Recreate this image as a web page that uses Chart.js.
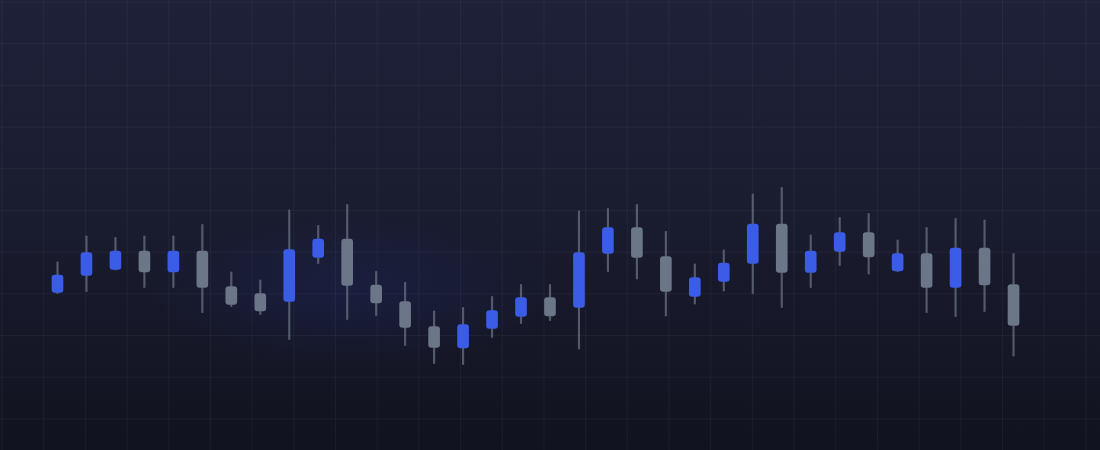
<!DOCTYPE html>
<html>
<head>
<meta charset="utf-8">
<script src="https://cdn.jsdelivr.net/npm/chart.js@4/dist/chart.umd.min.js"></script>
<style>
    html, body { margin: 0; padding: 0; }
    body { width: 1100px; height: 450px; overflow: hidden; background: #161828; }
    .wrap {
        position: relative;
        width: 1100px;
        height: 450px;
        background:
            linear-gradient(to right, rgba(255,255,255,0.038) 1px, transparent 1px) 1.5px 1.5px / 41.7px 41.7px,
            linear-gradient(to bottom, rgba(255,255,255,0.038) 1px, transparent 1px) 1.5px 1.5px / 41.7px 41.7px,
            radial-gradient(ellipse 300px 110px at 350px 290px, rgba(45,70,210,0.12), transparent 70%),
            linear-gradient(to bottom, #1f2139 0%, #1a1c30 45%, #121320 100%);
    }
</style>
</head>
<body>
<div class="wrap"><canvas id="chartCanvas"></canvas></div>
<script>
// Candles, left to right
const labels = Array.from({ length: 34 }, (_, i) => 'D' + (i + 1));
const opens  = [91.5, 94.9, 96.1, 99.8, 95.6, 99.8, 92.7, 91.3, 89.7, 98.5, 102.2, 93.0, 89.7, 84.7, 80.4, 84.3, 86.7,
                90.5, 88.5, 99.3, 104.5, 98.7, 90.7, 93.7, 97.3, 105.2, 95.5, 99.7, 103.5, 95.8, 99.3, 92.5, 100.4, 93.1];
const closes = [95.0, 99.5, 99.8, 95.6, 99.8, 92.5, 89.1, 87.8, 100.1, 102.2, 92.9, 89.4, 84.5, 80.5, 85.1, 87.9, 90.5,
                86.8, 99.5, 104.5, 98.5, 91.7, 94.5, 97.4, 105.2, 95.5, 99.8, 103.5, 98.6, 99.3, 92.5, 100.4, 93.0, 84.9];
const highs  = [97.6, 102.8, 102.5, 102.8, 102.8, 105.1, 95.6, 94.0, 108.0, 104.9, 109.1, 95.7, 93.5, 87.8, 88.5, 90.7, 93.1,
                93.1, 107.8, 108.3, 109.1, 103.7, 97.2, 100.0, 111.2, 112.5, 103.0, 106.5, 107.3, 102.0, 104.5, 106.3, 106.0, 99.3];
const lows   = [91.3, 91.7, 96.0, 92.5, 92.5, 87.5, 88.7, 87.1, 82.1, 97.3, 86.1, 86.9, 80.9, 77.3, 77.1, 82.5, 85.3,
                85.9, 80.2, 95.7, 94.2, 86.8, 89.2, 91.8, 91.3, 88.5, 92.5, 96.9, 95.2, 95.7, 87.5, 86.7, 87.7, 78.8];

const upColor = '#3b5ce6';
const downColor = '#6b7688';
const wickColor = 'rgba(110,118,134,0.7)';

const bodies = opens.map((o, i) => [o, closes[i]]);
const wicks = lows.map((l, i) => [l, highs[i]]);
const bodyColors = opens.map((o, i) => (closes[i] >= o ? upColor : downColor));

new Chart(document.getElementById('chartCanvas'), {
    type: 'bar',
    data: {
        labels: labels,
        datasets: [
            {
                label: 'Body',
                data: bodies,
                backgroundColor: bodyColors,
                barThickness: 11,
                borderRadius: 3,
                borderSkipped: false,
                order: 1
            },
            {
                label: 'Wick',
                data: wicks,
                backgroundColor: wickColor,
                barThickness: 1.5,
                borderSkipped: false,
                order: 2
            }
        ]
    },
    options: {
        responsive: true,
        maintainAspectRatio: false,
        animation: false,
        layout: { padding: { left: 43, right: 72, top: 0, bottom: 0 } },
        datasets: { bar: { grouped: false } },
        plugins: {
            legend: { display: false },
            tooltip: { enabled: false }
        },
        scales: {
            x: { display: false },
            y: { display: false, min: 60, max: 150 }
        }
    }
});
</script>
</body>
</html>
